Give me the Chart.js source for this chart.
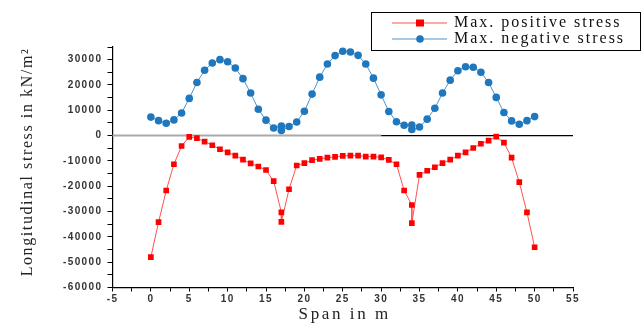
<!DOCTYPE html>
<html>
<head>
<meta charset="utf-8">
<script src="https://cdn.jsdelivr.net/npm/chart.js@4.4.1/dist/chart.umd.min.js"></script>
<style>
  html, body { margin: 0; padding: 0; background: #fff; }
  #wrap { width: 643px; height: 323px; }
</style>
</head>
<body>
<div id="wrap"><canvas id="stressChart"></canvas></div>
<script>
// span positions in m (17 and 34 carry two readings each)
var spanPos = [0, 1, 2, 3, 4, 5, 6, 7, 8, 9, 10, 11, 12, 13, 14, 15, 16, 17, 17,
    18, 19, 20, 21, 22, 23, 24, 25, 26, 27, 28, 29, 30, 31, 32, 33, 34, 34,
    35, 36, 37, 38, 39, 40, 41, 42, 43, 44, 45, 46, 47, 48, 49, 50];

var maxPositive = [-48000, -34200, -21700, -11300, -4100, -500, -1000, -2400, -3800, -5400,
    -6600, -7900, -9500, -11000, -12200, -13600, -18000, -30300, -34100,
    -21200, -11800, -10900, -9700, -9200, -8700, -8400, -8000, -7900, -7900,
    -8300, -8300, -8600, -9600, -11300, -21700, -27400, -34600,
    -15500, -13900, -12500, -10900, -9500, -7900, -6600, -4900, -3200, -2000,
    -400, -2800, -8700, -18400, -30300, -44100];

var maxNegative = [7300, 5900, 4900, 6200, 8900, 14700, 21000, 25800, 28700, 30000,
    29200, 26700, 22500, 16800, 10400, 6100, 3000, 3800, 2000,
    3600, 5400, 9600, 16400, 23100, 28300, 31600, 33300, 33000, 31700,
    28300, 22700, 16100, 9500, 5500, 4100, 4200, 2400,
    3400, 6500, 10800, 16800, 21900, 25600, 27200, 27000, 25000, 21000,
    15100, 9100, 5800, 4500, 5900, 7500];

var seriesNames = ['Max. positive stress', 'Max. negative stress'];
var xTitle = 'Span in m';
var yTitle = 'Longitudinal stress in kN/m\u00B2';

function toPoints(values) {
    return spanPos.map(function(x, i) { return { x: x, y: values[i] }; });
}

const decorations = {
    id: 'decorations',
    beforeDraw: function(chart) {
        chart.ctx.letterSpacing = '1.4px';
    },
    beforeDatasetsDraw: function(chart) {
        const ctx = chart.ctx;
        ctx.letterSpacing = '0px';
        const xs = chart.scales.x, ys = chart.scales.y;
        const y0 = ys.getPixelForValue(0);
        ctx.save();
        ctx.strokeStyle = '#aaaaaa';
        ctx.lineWidth = 2;
        ctx.beginPath();
        ctx.moveTo(xs.getPixelForValue(-5), y0);
        ctx.lineTo(xs.getPixelForValue(30), y0);
        ctx.stroke();
        ctx.strokeStyle = '#000000';
        ctx.lineWidth = 1.2;
        ctx.beginPath();
        ctx.moveTo(xs.getPixelForValue(30), y0);
        ctx.lineTo(xs.getPixelForValue(55), y0);
        ctx.stroke();
        ctx.restore();
    },
    afterDraw: function(chart) {
        const ctx = chart.ctx;
        const area = chart.chartArea;
        ctx.save();

        // axis titles
        ctx.fillStyle = '#222';
        ctx.textAlign = 'center';
        ctx.textBaseline = 'middle';
        ctx.font = '17px "Liberation Serif", serif';
        ctx.letterSpacing = '2.6px';
        ctx.fillText(xTitle, (area.left + area.right) / 2 + 2, 315);

        ctx.translate(28, 162);
        ctx.rotate(-Math.PI / 2);
        ctx.font = '16px "Liberation Serif", serif';
        ctx.letterSpacing = '1.6px';
        ctx.fillText(yTitle, 0, 0);
        ctx.setTransform(1, 0, 0, 1, 0, 0);

        // legend box
        ctx.letterSpacing = '0px';
        ctx.strokeStyle = '#000';
        ctx.lineWidth = 1;
        ctx.strokeRect(371.5, 12.5, 269, 38);

        chart.data.datasets.forEach(function(ds, i) {
            const cy = 23 + i * 16;
            ctx.strokeStyle = ds.borderColor;
            ctx.lineWidth = 1.2;
            ctx.beginPath();
            ctx.moveTo(392, cy);
            ctx.lineTo(447, cy);
            ctx.stroke();
            ctx.fillStyle = ds.pointBackgroundColor;
            if (ds.pointStyle === 'rect') {
                ctx.fillRect(416, cy - 3.5, 8, 7);
            } else {
                ctx.beginPath();
                ctx.arc(420, cy, 3.8, 0, Math.PI * 2);
                ctx.fill();
            }
            ctx.fillStyle = '#111';
            ctx.textAlign = 'left';
            ctx.textBaseline = 'middle';
            ctx.font = '16px "Liberation Serif", serif';
            ctx.letterSpacing = '2px';
            ctx.fillText(ds.label, 454, cy);
        });
        ctx.restore();
    }
};

const ctx = document.getElementById('stressChart');

new Chart(ctx, {
    type: 'scatter',
    data: {
        datasets: [{
            label: seriesNames[0],
            data: toPoints(maxPositive),
            showLine: true,
            borderColor: '#ff5050',
            borderWidth: 1,
            pointStyle: 'rect',
            pointRadius: 4,
            pointBackgroundColor: '#ff0000',
            pointBorderColor: '#ff0000',
            pointBorderWidth: 0,
        }, {
            label: seriesNames[1],
            data: toPoints(maxNegative),
            showLine: true,
            borderColor: '#4a93cf',
            borderWidth: 1,
            pointStyle: 'circle',
            pointRadius: 3.8,
            pointBackgroundColor: '#1f78be',
            pointBorderColor: '#1f78be',
            pointBorderWidth: 0,
        }]
    },
    options: {
        responsive: true,
        maintainAspectRatio: false,
        animation: false,
        devicePixelRatio: 1,
        layout: {
            padding: { left: 0, right: 70, top: 47, bottom: 0 }
        },
        plugins: {
            legend: { display: false },
            tooltip: { enabled: false },
        },
        scales: {
            x: {
                type: 'linear',
                min: -5,
                max: 55,
                afterFit: function(scale) { scale.height = 35.5; },
                grid: {
                    display: true,
                    drawOnChartArea: false,
                    tickLength: 4,
                    color: '#000',
                },
                border: { display: true, color: '#000', width: 1.2 },
                ticks: {
                    stepSize: 2.5,
                    autoSkip: false,
                    maxRotation: 0,
                    padding: 2,
                    color: '#333',
                    font: { family: '"Liberation Sans", Arial, sans-serif', size: 10, weight: 'bold' },
                    callback: function(v) { return v % 5 === 0 ? v : ''; },
                },
            },
            y: {
                min: -60000,
                max: 35000,
                afterFit: function(scale) { scale.width = 112.5; },
                grid: {
                    display: true,
                    drawOnChartArea: false,
                    tickLength: 5,
                    color: '#000',
                },
                border: { display: true, color: '#000', width: 1.2 },
                ticks: {
                    stepSize: 5000,
                    autoSkip: false,
                    padding: 5,
                    color: '#333',
                    font: { family: '"Liberation Sans", Arial, sans-serif', size: 10, weight: 'bold' },
                    callback: function(v) { return v % 10000 === 0 ? v : ''; },
                },
            },
        },
    },
    plugins: [decorations],
});
</script>
</body>
</html>
